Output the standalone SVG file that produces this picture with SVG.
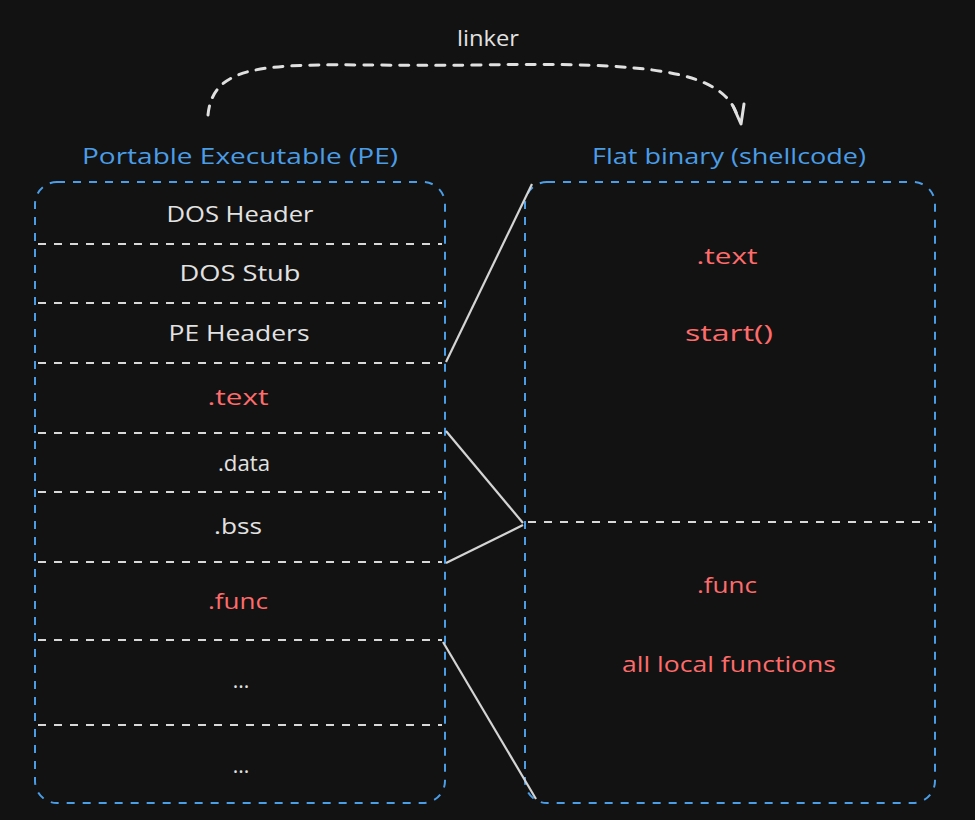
<svg xmlns="http://www.w3.org/2000/svg" width="975" height="820" viewBox="0 0 975 820">
<defs>
<style>
.bg{fill:#121212}
.box{fill:none;stroke:#4a9de6;stroke-width:2;stroke-dasharray:8 8}
.sep{fill:none;stroke:#d8d8d8;stroke-width:2;stroke-dasharray:8 8}
.link{fill:none;stroke:#d4d4d4;stroke-width:2.2}
.arc{fill:none;stroke:#e0e0e0;stroke-width:3;stroke-dasharray:9 9;stroke-linecap:round}
.ah{fill:none;stroke:#e0e0e0;stroke-width:3;stroke-linecap:round;stroke-linejoin:round}
text{font-family:"Open Sans","Liberation Sans",sans-serif;font-size:21px;text-anchor:middle;dominant-baseline:central}
.t{fill:#e2e2e2}
.r{fill:#ff6b6b}
.b{fill:#4a9de6}
</style>
</defs>
<rect class="bg" x="0" y="0" width="975" height="820"/>

<g id="pe">
<rect class="box" x="35" y="182" width="410" height="621" rx="22"/>
<text class="b" x="240" y="156" textLength="316" lengthAdjust="spacingAndGlyphs">Portable Executable (PE)</text>
</g>

<g id="pe-sections">
<line class="sep" x1="38" y1="244" x2="442" y2="244"/>
<line class="sep" x1="38" y1="303" x2="442" y2="303"/>
<line class="sep" x1="38" y1="363" x2="442" y2="363"/>
<line class="sep" x1="38" y1="433" x2="442" y2="433"/>
<line class="sep" x1="38" y1="492" x2="442" y2="492"/>
<line class="sep" x1="38" y1="562" x2="442" y2="562"/>
<line class="sep" x1="38" y1="640" x2="442" y2="640"/>
<line class="sep" x1="38" y1="725" x2="442" y2="725"/>
</g>
<g id="dos-header"><text class="t" x="240" y="214" textLength="147" lengthAdjust="spacingAndGlyphs">DOS Header</text></g>
<g id="dos-stub"><text class="t" x="240" y="273" textLength="121" lengthAdjust="spacingAndGlyphs">DOS Stub</text></g>
<g id="pe-headers"><text class="t" x="239" y="333" textLength="141" lengthAdjust="spacingAndGlyphs">PE Headers</text></g>
<g id="pe-text"><text class="r" x="238" y="397" textLength="61" lengthAdjust="spacingAndGlyphs">.text</text></g>
<g id="pe-data"><text class="t" x="244" y="463" textLength="52" lengthAdjust="spacingAndGlyphs">.data</text></g>
<g id="pe-bss"><text class="t" x="238" y="526" textLength="48" lengthAdjust="spacingAndGlyphs">.bss</text></g>
<g id="pe-func"><text class="r" x="238" y="601" textLength="60" lengthAdjust="spacingAndGlyphs">.func</text></g>
<g id="pe-more1"><text class="t" x="241" y="680">...</text></g>
<g id="pe-more2"><text class="t" x="241" y="765">...</text></g>

<g id="flat">
<rect class="box" x="525" y="182" width="410" height="621" rx="22"/>
<text class="b" x="729" y="156" textLength="274" lengthAdjust="spacingAndGlyphs">Flat binary (shellcode)</text>
<line class="sep" x1="528" y1="522" x2="932" y2="522"/>
</g>
<g id="flat-text">
<text class="r" x="727" y="256" textLength="61" lengthAdjust="spacingAndGlyphs">.text</text>
<text class="r" x="729" y="333" textLength="88" lengthAdjust="spacingAndGlyphs">start()</text>
</g>
<g id="flat-func">
<text class="r" x="727" y="585" textLength="60" lengthAdjust="spacingAndGlyphs">.func</text>
<text class="r" x="729" y="664" textLength="214" lengthAdjust="spacingAndGlyphs">all local functions</text>
</g>

<g id="connectors">
<line class="link" x1="446" y1="362" x2="532" y2="184"/>
<line class="link" x1="446" y1="431" x2="523" y2="523"/>
<line class="link" x1="446" y1="563" x2="523" y2="525"/>
<line class="link" x1="443" y1="642" x2="536" y2="799"/>
<path class="arc" d="M 208 115 C 214 50, 300 68, 480 65 C 650 62, 725 70, 738 118"/>
<path class="ah" d="M 733 106 L 741 124 L 744 104"/>
<text class="t" x="488" y="38" textLength="62" lengthAdjust="spacingAndGlyphs">linker</text>
</g>
</svg>
